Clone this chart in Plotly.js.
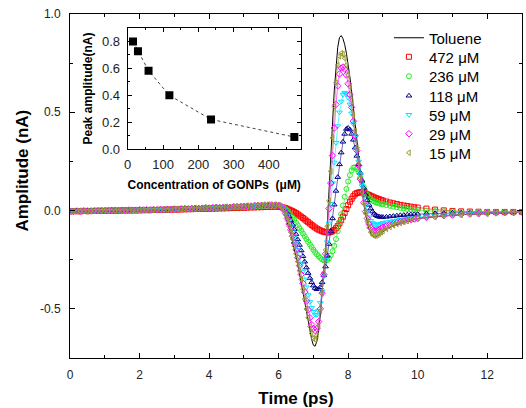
<!DOCTYPE html>
<html>
<head>
<meta charset="utf-8">
<script src="https://cdn.plot.ly/plotly-3.0.1.min.js"></script>
<style>html,body{margin:0;padding:0;background:#fff}#chart{width:526px;height:408px}</style>
</head>
<body>
<div id="chart"></div>
<script>
// ---- time axis (ps) ----
const time = [0,0.1,0.2,0.3,0.4,0.5,0.6,0.7,0.8,0.9,
1,1.1,1.2,1.3,1.4,1.5,1.6,1.7,1.8,1.9,
2,2.1,2.2,2.3,2.4,2.5,2.6,2.7,2.8,2.9,
3,3.1,3.2,3.3,3.4,3.5,3.6,3.7,3.8,3.9,
4,4.1,4.2,4.3,4.4,4.5,4.6,4.7,4.8,4.9,
5,5.1,5.2,5.3,5.4,5.5,5.6,5.7,5.8,5.9,
6,6.05,6.1,6.15,6.2,6.25,6.3,6.35,6.4,6.45,
6.5,6.55,6.6,6.65,6.7,6.75,6.8,6.85,6.9,6.95,
7,7.05,7.1,7.15,7.2,7.25,7.3,7.35,7.4,7.45,
7.5,7.55,7.6,7.65,7.7,7.75,7.8,7.85,7.9,7.95,
8,8.05,8.1,8.15,8.2,8.25,8.3,8.35,8.4,8.45,
8.5,8.55,8.6,8.65,8.7,8.75,8.8,8.85,8.9,8.95,
9,
9.1,9.2,9.3,9.4,9.5,9.6,9.7,9.8,9.9,10,
10.25,10.5,10.75,11,11.25,11.5,11.75,12,12.25,12.5,12.75,13];

// ---- amplitude (nA) ----
const toluene = [-0.002,-0.003,-0.002,-0.002,-0.001,-0.002,-0.001,-0.001,0.000,-0.001,
0.000,0.001,0.000,0.001,0.001,0.002,0.001,0.002,0.002,0.003,
0.003,0.003,0.004,0.004,0.005,0.005,0.006,0.006,0.007,0.007,
0.008,0.008,0.009,0.009,0.010,0.011,0.011,0.012,0.013,0.013,
0.014,0.015,0.016,0.016,0.017,0.018,0.019,0.020,0.021,0.022,
0.023,0.024,0.025,0.026,0.027,0.028,0.029,0.030,0.030,0.029,
0.028,0.022,0.012,-0.005,-0.03,-0.06,-0.09,-0.12,-0.155,-0.19,
-0.23,-0.275,-0.32,-0.37,-0.42,-0.47,-0.52,-0.57,-0.615,-0.655,
-0.685,-0.69,-0.665,-0.61,-0.53,-0.43,-0.32,-0.2,-0.07,0.08,
0.25,0.44,0.61,0.74,0.83,0.88,0.89,0.875,0.845,0.8,
0.745,0.68,0.605,0.525,0.44,0.35,0.26,0.175,0.1,0.035,
-0.02,-0.06,-0.095,-0.118,-0.13,-0.135,-0.133,-0.128,-0.121,-0.114,
-0.107,
-0.095,-0.085,-0.077,-0.07,-0.064,-0.058,-0.053,-0.048,-0.044,-0.041,
-0.035,-0.031,-0.027,-0.024,-0.021,-0.019,-0.017,-0.015,-0.013,-0.012,-0.01,-0.009];

const c472 = [-0.004,-0.003,-0.003,-0.004,-0.002,-0.003,-0.002,-0.002,-0.001,-0.002,
-0.001,-0.001,0.000,-0.001,0.000,0.000,0.001,0.000,0.001,0.001,
0.001,0.002,0.002,0.002,0.003,0.003,0.003,0.004,0.004,0.005,
0.005,0.005,0.006,0.006,0.007,0.007,0.008,0.008,0.008,0.009,
0.009,0.010,0.010,0.011,0.011,0.012,0.012,0.013,0.013,0.014,
0.014,0.015,0.016,0.016,0.017,0.017,0.018,0.018,0.019,0.019,
0.02,0.019,0.017,0.015,0.012,0.009,0.005,0.001,-0.003,-0.008,
-0.013,-0.019,-0.025,-0.031,-0.038,-0.045,-0.052,-0.059,-0.066,-0.073,
-0.08,-0.086,-0.092,-0.097,-0.101,-0.105,-0.108,-0.11,-0.111,-0.111,
-0.109,-0.105,-0.099,-0.09,-0.079,-0.065,-0.049,-0.031,-0.012,0.008,
0.027,0.045,0.06,0.073,0.083,0.089,0.092,0.093,0.092,0.09,
0.087,0.083,0.079,0.075,0.071,0.067,0.063,0.06,0.057,0.054,
0.051,
0.046,0.041,0.037,0.033,0.029,0.026,0.023,0.02,0.017,0.015,
0.01,0.005,0.001,-0.002,-0.004,-0.005,-0.006,-0.007,-0.007,-0.007,-0.007,-0.007];

const c236 = [-0.003,-0.002,-0.003,-0.002,-0.002,-0.001,-0.002,-0.001,-0.001,0.000,
0.000,-0.001,0.001,0.000,0.001,0.000,0.001,0.002,0.001,0.002,
0.003,0.002,0.003,0.004,0.003,0.004,0.005,0.004,0.005,0.006,
0.006,0.007,0.007,0.008,0.008,0.009,0.009,0.010,0.010,0.011,
0.011,0.012,0.013,0.013,0.014,0.014,0.015,0.016,0.016,0.017,
0.018,0.019,0.019,0.020,0.021,0.022,0.023,0.024,0.025,0.025,
0.026,0.024,0.02,0.014,0.007,-0.002,-0.012,-0.023,-0.035,-0.048,
-0.061,-0.075,-0.089,-0.103,-0.117,-0.131,-0.145,-0.159,-0.173,-0.186,
-0.199,-0.211,-0.222,-0.232,-0.241,-0.248,-0.253,-0.255,-0.252,-0.243,
-0.228,-0.207,-0.18,-0.145,-0.105,-0.062,-0.018,0.026,0.07,0.11,
0.148,0.18,0.204,0.218,0.22,0.212,0.196,0.17,0.145,0.12,
0.098,0.08,0.067,0.058,0.051,0.046,0.042,0.039,0.036,0.034,
0.032,
0.028,0.024,0.02,0.017,0.014,0.011,0.008,0.006,0.004,0.002,
-0.001,-0.003,-0.004,-0.005,-0.006,-0.006,-0.007,-0.007,-0.007,-0.007,-0.007,-0.007];

const c118 = [-0.002,-0.003,-0.001,-0.002,-0.002,-0.001,-0.001,-0.002,0.000,-0.001,
0.000,0.000,0.001,0.000,0.001,0.001,0.002,0.001,0.002,0.003,
0.002,0.003,0.004,0.003,0.004,0.005,0.005,0.006,0.006,0.007,
0.007,0.008,0.008,0.009,0.009,0.010,0.010,0.011,0.012,0.012,
0.013,0.013,0.014,0.015,0.015,0.016,0.017,0.018,0.018,0.019,
0.020,0.021,0.022,0.022,0.023,0.024,0.025,0.025,0.026,0.026,
0.026,0.023,0.018,0.01,0.0,-0.013,-0.03,-0.05,-0.072,-0.095,
-0.12,-0.147,-0.175,-0.203,-0.232,-0.26,-0.29,-0.318,-0.343,-0.365,
-0.382,-0.394,-0.4,-0.4,-0.39,-0.365,-0.33,-0.285,-0.23,-0.17,
-0.105,-0.04,0.03,0.1,0.17,0.235,0.295,0.35,0.39,0.415,
0.42,0.412,0.39,0.36,0.32,0.278,0.235,0.192,0.152,0.115,
0.082,0.053,0.029,0.01,-0.005,-0.016,-0.024,-0.029,-0.032,-0.033,
-0.033,
-0.032,-0.03,-0.028,-0.026,-0.024,-0.023,-0.021,-0.02,-0.019,-0.018,
-0.016,-0.014,-0.013,-0.012,-0.011,-0.011,-0.01,-0.01,-0.009,-0.009,-0.008,-0.008];

const c59 = [-0.004,-0.003,-0.004,-0.002,-0.003,-0.002,-0.003,-0.001,-0.002,-0.001,
-0.001,0.000,-0.001,0.001,0.000,0.001,0.001,0.000,0.002,0.001,
0.002,0.002,0.003,0.003,0.004,0.003,0.005,0.005,0.006,0.005,
0.007,0.007,0.008,0.008,0.009,0.009,0.010,0.011,0.011,0.012,
0.012,0.013,0.014,0.014,0.015,0.016,0.017,0.017,0.019,0.019,
0.020,0.021,0.022,0.023,0.024,0.025,0.026,0.026,0.027,0.027,
0.027,0.023,0.016,0.006,-0.008,-0.027,-0.05,-0.077,-0.105,-0.135,
-0.168,-0.2,-0.235,-0.272,-0.31,-0.35,-0.39,-0.43,-0.465,-0.495,
-0.515,-0.53,-0.53,-0.51,-0.47,-0.41,-0.335,-0.25,-0.16,-0.065,
0.035,0.14,0.245,0.345,0.43,0.5,0.555,0.59,0.6,0.595,
0.575,0.54,0.495,0.44,0.38,0.315,0.25,0.185,0.125,0.072,
0.028,-0.008,-0.034,-0.052,-0.063,-0.069,-0.071,-0.071,-0.069,-0.066,
-0.063,
-0.059,-0.056,-0.053,-0.05,-0.047,-0.044,-0.041,-0.038,-0.036,-0.034,
-0.029,-0.026,-0.023,-0.02,-0.018,-0.016,-0.014,-0.013,-0.012,-0.011,-0.01,-0.009];

const c29 = [-0.003,-0.004,-0.002,-0.003,-0.001,-0.002,-0.002,-0.001,-0.001,0.000,
-0.001,0.000,0.001,0.001,0.000,0.002,0.001,0.003,0.002,0.002,
0.004,0.003,0.004,0.003,0.005,0.004,0.006,0.005,0.007,0.006,
0.008,0.007,0.009,0.010,0.009,0.010,0.012,0.011,0.012,0.014,
0.013,0.014,0.016,0.015,0.016,0.018,0.017,0.019,0.020,0.020,
0.022,0.023,0.023,0.025,0.026,0.026,0.028,0.028,0.029,0.028,
0.027,0.023,0.015,0.003,-0.015,-0.04,-0.068,-0.098,-0.13,-0.165,
-0.2,-0.24,-0.28,-0.325,-0.37,-0.415,-0.46,-0.505,-0.545,-0.58,
-0.6,-0.61,-0.6,-0.565,-0.5,-0.42,-0.325,-0.22,-0.11,0.01,
0.14,0.28,0.42,0.54,0.635,0.695,0.725,0.73,0.72,0.69,
0.645,0.59,0.525,0.455,0.38,0.305,0.23,0.16,0.095,0.04,
-0.005,-0.04,-0.068,-0.086,-0.097,-0.102,-0.102,-0.099,-0.095,-0.09,
-0.085,
-0.078,-0.072,-0.067,-0.062,-0.058,-0.054,-0.05,-0.046,-0.043,-0.04,
-0.034,-0.03,-0.026,-0.023,-0.02,-0.018,-0.016,-0.014,-0.012,-0.011,-0.01,-0.009];

const c15 = [-0.004,-0.002,-0.003,-0.001,-0.002,-0.003,-0.001,-0.002,0.000,-0.001,
0.001,-0.001,0.001,0.000,0.002,0.001,0.002,0.001,0.003,0.002,
0.003,0.004,0.003,0.005,0.004,0.006,0.005,0.007,0.006,0.008,
0.007,0.009,0.008,0.010,0.009,0.011,0.012,0.011,0.013,0.014,
0.013,0.015,0.016,0.015,0.017,0.018,0.018,0.020,0.020,0.022,
0.022,0.024,0.024,0.026,0.027,0.027,0.029,0.030,0.029,0.030,
0.028,0.023,0.014,0.0,-0.022,-0.05,-0.08,-0.11,-0.145,-0.18,
-0.22,-0.26,-0.305,-0.35,-0.4,-0.45,-0.5,-0.545,-0.59,-0.625,
-0.65,-0.655,-0.635,-0.585,-0.51,-0.42,-0.315,-0.2,-0.08,0.05,
0.2,0.37,0.53,0.65,0.74,0.785,0.8,0.795,0.775,0.74,
0.69,0.63,0.56,0.485,0.405,0.32,0.24,0.165,0.095,0.035,
-0.015,-0.055,-0.088,-0.11,-0.123,-0.128,-0.127,-0.123,-0.117,-0.11,
-0.104,
-0.093,-0.083,-0.075,-0.068,-0.062,-0.057,-0.052,-0.047,-0.043,-0.04,
-0.034,-0.03,-0.026,-0.023,-0.02,-0.018,-0.016,-0.014,-0.012,-0.011,-0.01,-0.009];

// ---- inset: peak amplitude vs concentration ----
const concentration = [15, 29, 59, 118, 236, 472];
const peakAmplitude = [0.80, 0.727, 0.582, 0.399, 0.22, 0.089];

// ---- labels ----
const seriesNames = ['472 \u03BCM','236 \u03BCM','118 \u03BCM','59 \u03BCM','29 \u03BCM','15 \u03BCM'];
const xTickVals = [0,2,4,6,8,10,12];
const xTickText = ['0','2','4','6','8','10','12'];
const yTickVals = [-0.5,0,0.5,1];
const yTickText = ['-0.5','0.0','0.5','1.0'];
const inXTickVals = [0,100,200,300,400];
const inXTickText = ['0','100','200','300','400'];
const inYTickVals = [0,0.2,0.4,0.6,0.8];
const inYTickText = ['0.0','0.2','0.4','0.6','0.8'];

const FONT = 'Liberation Sans, Arial, Helvetica, sans-serif';
const seriesData = [c472, c236, c118, c59, c29, c15];
const colors = ['#ff0000','#22ee22','#00008b','#00e5ff','#ff00ff','#9a9a30'];
const symbols = ['square-open','circle-open','triangle-up-open','triangle-down-open','diamond-open','triangle-left-open'];

// legend item centres (px from top of figure)
const legendCentersPx = [38, 57, 76.5, 96, 115, 134, 153];
const plotTop = 14, plotBottom = 358;
const legendKeys = ['legend','legend2','legend3','legend4','legend5','legend6','legend7'];

const traces = [{
  x: time, y: toluene, name: 'Toluene', type: 'scatter', mode: 'lines',
  line: {color: '#000000', width: 1}, legend: 'legend'
}];
for (let i = 0; i < seriesData.length; i++) {
  traces.push({
    x: time, y: seriesData[i], type: 'scatter', mode: 'lines', showlegend: false,
    line: {color: colors[i], width: 0.6}
  });
  traces.push({
    x: time, y: seriesData[i], name: seriesNames[i], type: 'scatter', mode: 'markers',
    legend: legendKeys[i + 1],
    marker: {symbol: symbols[i], size: 5, color: colors[i], line: {width: 1, color: colors[i]}}
  });
}
traces.push({
  x: concentration, y: peakAmplitude, xaxis: 'x2', yaxis: 'y2', type: 'scatter', mode: 'lines+markers',
  showlegend: false,
  line: {color: '#444444', width: 1, dash: 'dot'},
  marker: {symbol: 'square', size: 8, color: '#000000'}
});

const axBase = {
  showgrid: false, zeroline: false, showline: true, linecolor: '#000', linewidth: 1,
  mirror: 'allticks', ticks: 'inside', tickcolor: '#000', tickwidth: 1
};

const layout = {
  width: 526, height: 408,
  margin: {l: 70, r: 4, t: 14, b: 50},
  paper_bgcolor: '#fff', plot_bgcolor: '#fff',
  font: {family: FONT, color: '#000'},
  showlegend: true,
  xaxis: Object.assign({}, axBase, {
    range: [0, 13], domain: [0, 1], tickmode: 'array', tickvals: xTickVals, ticktext: xTickText,
    ticklen: 5, ticklabelstandoff: 6, tickfont: {family: FONT, size: 12, color: '#222'},
    minor: {tickmode: 'linear', tick0: 0, dtick: 1, ticks: 'inside', ticklen: 3, tickcolor: '#000'},
    title: {text: 'Time (ps)', font: {family: FONT, size: 17, weight: 'bold', color: '#000'}, standoff: 12}
  }),
  yaxis: Object.assign({}, axBase, {
    range: [-0.75, 1.0], domain: [0, 1], tickmode: 'array', tickvals: yTickVals, ticktext: yTickText,
    ticklen: 5, ticklabelstandoff: 6, tickfont: {family: FONT, size: 12, color: '#222'},
    minor: {tickmode: 'linear', tick0: 0, dtick: 0.25, ticks: 'inside', ticklen: 3, tickcolor: '#000'}
  }),
  xaxis2: Object.assign({}, axBase, {
    anchor: 'y2', domain: [0.1277, 0.5104], range: [0, 490],
    tickmode: 'array', tickvals: inXTickVals, ticktext: inXTickText,
    ticklen: 4, ticklabelstandoff: 3, tickfont: {family: FONT, size: 13, color: '#222'},
    minor: {tickmode: 'linear', tick0: 0, dtick: 50, ticks: 'inside', ticklen: 2, tickcolor: '#000'},
    title: {text: 'Concentration of GONPs  (\u03BCM)', font: {family: FONT, size: 12, weight: 'bold', color: '#000'}, standoff: 10}
  }),
  yaxis2: Object.assign({}, axBase, {
    anchor: 'x2', domain: [0.6076, 0.9593], range: [0, 0.9],
    tickmode: 'array', tickvals: inYTickVals, ticktext: inYTickText,
    ticklen: 4, ticklabelstandoff: 4, tickfont: {family: FONT, size: 13, color: '#222'},
    minor: {tickmode: 'linear', tick0: 0, dtick: 0.1, ticks: 'inside', ticklen: 2, tickcolor: '#000'},
    title: {text: 'Peak amplitude(nA)', font: {family: FONT, size: 12, weight: 'bold', color: '#000'}, standoff: 6}
  }),
  annotations: [{
    text: 'Amplitude (nA)', textangle: -90, showarrow: false,
    xref: 'paper', yref: 'paper', x: -0.106, y: 0.545, xanchor: 'center', yanchor: 'middle',
    font: {family: FONT, size: 17, weight: 'bold', color: '#000'}
  }]
};
legendKeys.forEach(function (k, i) {
  layout[k] = {
    x: 0.7056, y: (plotBottom - legendCentersPx[i]) / (plotBottom - plotTop),
    xanchor: 'left', yanchor: 'middle', bgcolor: 'rgba(0,0,0,0)', borderwidth: 0,
    font: {family: FONT, size: 15, color: '#000'}
  };
});

Plotly.newPlot('chart', traces, layout, {displayModeBar: false, staticPlot: true});
</script>
</body>
</html>
